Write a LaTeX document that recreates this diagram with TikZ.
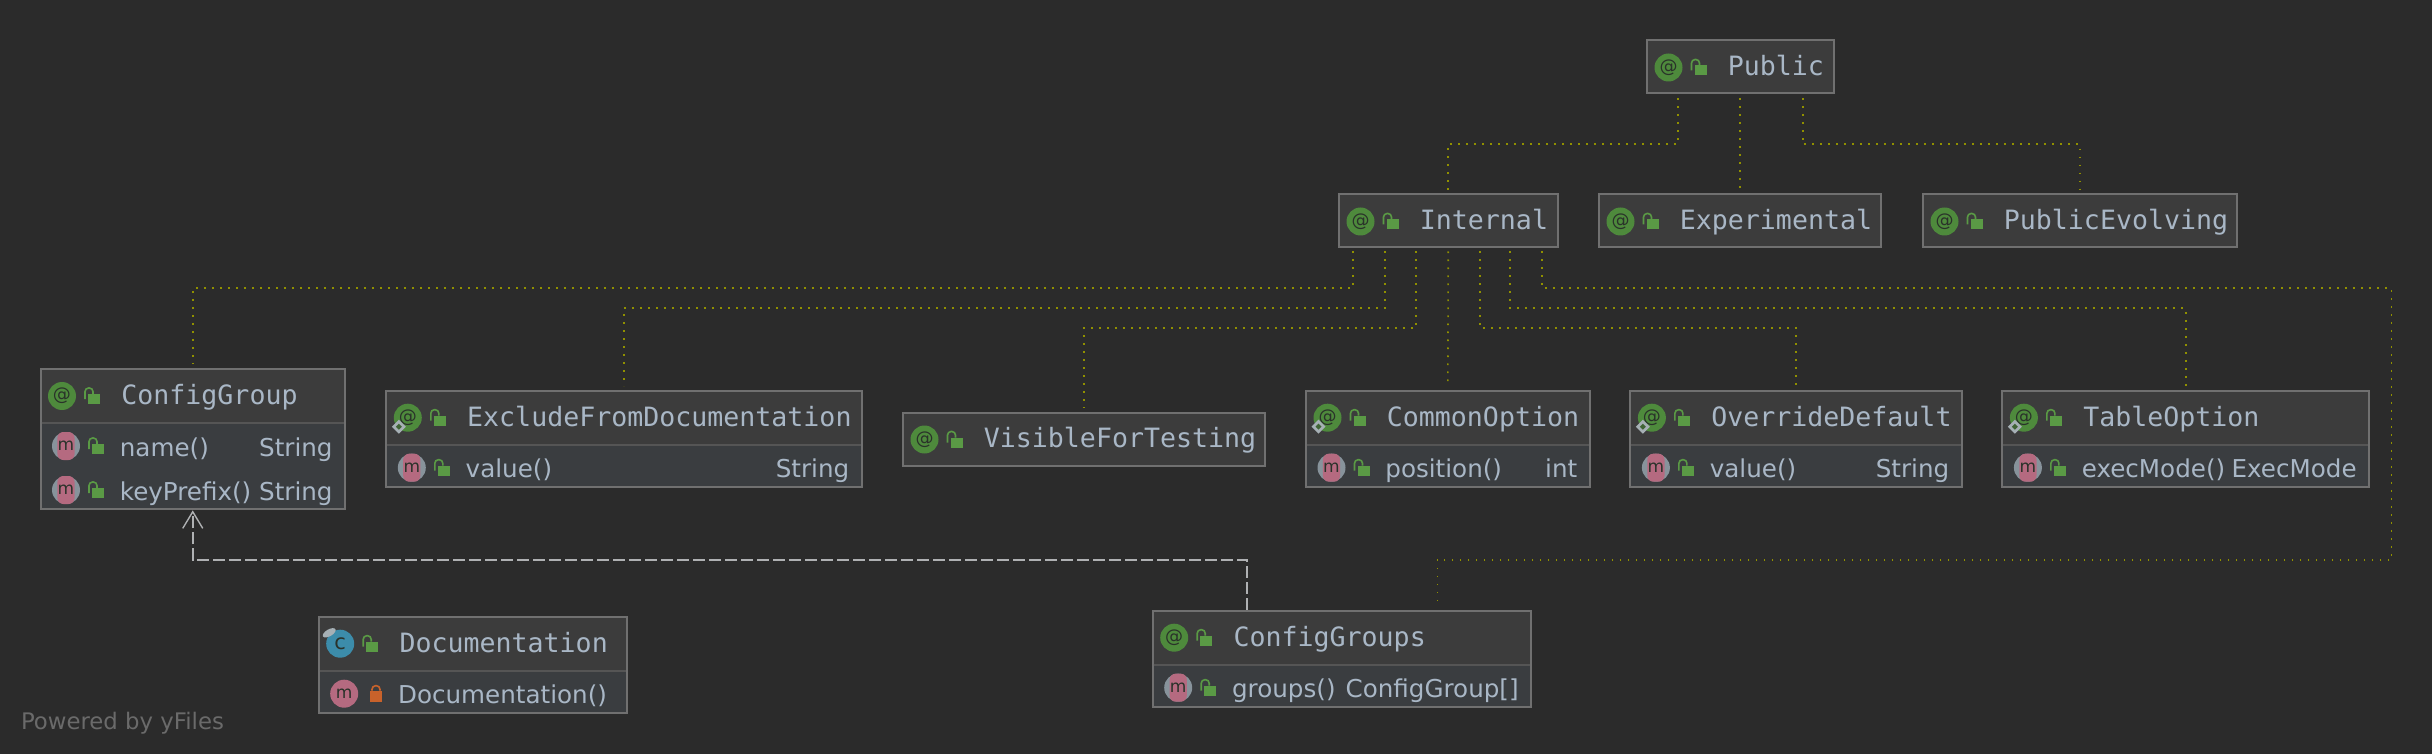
\documentclass[tikz,border=0pt]{standalone}
\usepackage{fontspec}
\setmainfont{DejaVu Sans}
\setmonofont{DejaVu Sans Mono}
\usetikzlibrary{arrows.meta}
\definecolor{canvasgray}{HTML}{2B2B2B}
\definecolor{headfill}{HTML}{3C3C3C}
\definecolor{rowfill}{HTML}{3A3D40}
\definecolor{boxline}{HTML}{707070}
\definecolor{rowline}{HTML}{555555}
\definecolor{labeltext}{HTML}{A9B7C6}
\definecolor{creditgray}{HTML}{6A6A6A}
\definecolor{implolive}{HTML}{909000}
\definecolor{deplight}{HTML}{AFB1B3}
\definecolor{annogreen}{HTML}{4E8A3C}
\definecolor{lockgreen}{HTML}{5A9A45}
\definecolor{lockorange}{HTML}{C8622B}
\definecolor{methodpink}{HTML}{B56A80}
\definecolor{ringgray}{HTML}{87939B}
\definecolor{classblue}{HTML}{3C8CAA}
\definecolor{glyphdark}{HTML}{2A322A}
\definecolor{tagpale}{HTML}{A6B0B5}
\tikzset{
	classbox/.style={draw=boxline, line width=1pt, fill=rowfill, rectangle, anchor=north west, outer sep=0pt, inner sep=0pt},
	titletext/.style={anchor=base west, inner sep=0pt, text=labeltext, font=\ttfamily\fontsize{13.3}{15}\selectfont},
	rowtext/.style={inner sep=0pt, text=labeltext, font=\fontsize{12.3}{14}\selectfont},
	annoicon/.style={circle, fill=annogreen, minimum size=14pt, inner sep=0pt, text=glyphdark, font=\fontsize{9}{10}\selectfont},
	classicon/.style={circle, fill=classblue, minimum size=14pt, inner sep=0pt, text=glyphdark, font=\fontsize{10.5}{11}\selectfont},
	methodicon/.style={circle, fill=methodpink, minimum size=14pt, inner sep=0pt, text=glyphdark, font=\fontsize{8.5}{10}\selectfont},
	methodring/.style={circle, fill=ringgray, minimum size=14pt, inner sep=0pt},
	methodbar/.style={rectangle, rounded corners=3pt, fill=methodpink, minimum width=8.6pt, minimum height=14pt, inner sep=0pt, text=glyphdark, font=\fontsize{8.5}{10}\selectfont},
	implink/.style={draw=implolive, line width=0.8pt, dash pattern=on 0.8pt off 3.2pt},
	deplink/.style={draw=deplight, line width=0.8pt, dash pattern=on 6pt off 2pt, -{Straight Barb[length=8.3pt, width=10pt, line width=0.7pt]}},
	openlock/.pic={
		\fill [lockgreen] (-3,-2.5) rectangle (3,2.5);
		\draw [lockgreen, line width=0.8pt, rounded corners=1.8pt] (-4.5,0) -- (-4.5,-5.5) -- (-0.5,-5.5) -- (-0.5,-2.5);
	},
	shutlock/.pic={
		\fill [lockorange] (-3,-2.5) rectangle (3,3);
		\draw [lockorange, line width=0.8pt, rounded corners=1.8pt] (-2,-2.5) -- (-2,-5) -- (2,-5) -- (2,-2.5);
	},
	sealmark/.pic={
		\fill [tagpale] (0,-3.5) -- (3.5,0) -- (0,3.5) -- (-3.5,0) -- cycle;
		\fill [annogreen!60!canvasgray] (0,-1.5) -- (1.5,0) -- (0,1.5) -- (-1.5,0) -- cycle;
	},
}
\newcommand{\classparts}[2]{
	\fill [headfill] ([shift={(0.5,0.5)}]#1.north west) rectangle ([shift={(-0.5,#2)}]#1.north east);
	\draw [rowline, line width=0.8pt] ([shift={(0.5,#2)}]#1.north west) -- ([shift={(-0.5,#2)}]#1.north east);
}
\newcommand{\annohead}[2]{
	\node (#1icon) [annoicon] at ([shift={(10.75,13.5)}]#1.north west) {@};
	\pic at ([shift={(26.75,15)}]#1.north west) {openlock};
	\node (#1title) [titletext] at ([shift={(40.25,17.7)}]#1.north west) {#2};
}
\newcommand{\methodrow}[5]{
	\node (#1#2ring) [methodring] at ([shift={(12.75,#3)}]#1.north west) {};
	\node (#1#2icon) [methodbar] at (#1#2ring) {m};
	\pic at ([shift={(28.75,#3+1.5)}]#1.north west) {openlock};
	\node (#1#2name) [rowtext, anchor=base west] at ([shift={(39.5,#3+5)}]#1.north west) {#4};
	\node (#1#2type) [rowtext, anchor=base east] at ([shift={(-6,#3+5)}]#1.north east) {#5};
}
\begin{document}
\begin{tikzpicture}[x=1pt, y=-1pt]
	\useasboundingbox [fill=canvasgray] (0,0) rectangle (1216,377);
	\node (public) [classbox, minimum width=93.25pt, minimum height=26.5pt, fill=headfill] at (823.5,20.25) {};
	\node (internal) [classbox, minimum width=109.25pt, minimum height=26.5pt, fill=headfill] at (669.5,97.25) {};
	\node (experimental) [classbox, minimum width=141pt, minimum height=26.5pt, fill=headfill] at (799.5,97.25) {};
	\node (publicevolving) [classbox, minimum width=157pt, minimum height=26.5pt, fill=headfill] at (961.5,97.25) {};
	\node (visible) [classbox, minimum width=181pt, minimum height=26.5pt, fill=headfill] at (451.5,206.25) {};
	\node (configgroup) [classbox, minimum width=152.25pt, minimum height=70pt] at (20.25,184.5) {};
	\node (exclude) [classbox, minimum width=237.65pt, minimum height=48.15pt] at (193.15,195.35) {};
	\node (commonoption) [classbox, minimum width=141.85pt, minimum height=48.15pt] at (653,195.35) {};
	\node (override) [classbox, minimum width=165.6pt, minimum height=48.15pt] at (815.2,195.35) {};
	\node (tableoption) [classbox, minimum width=183.3pt, minimum height=48.15pt] at (1001.2,195.35) {};
	\node (configgroups) [classbox, minimum width=189.15pt, minimum height=48.3pt] at (576.35,305.35) {};
	\node (documentation) [classbox, minimum width=154.3pt, minimum height=48.3pt] at (159.35,308.35) {};
	\classparts{configgroup}{26.9}
	\classparts{exclude}{27.1}
	\classparts{commonoption}{27.1}
	\classparts{override}{27.1}
	\classparts{tableoption}{27.1}
	\classparts{configgroups}{27.1}
	\classparts{documentation}{27.1}
	\annohead{public}{Public}
	\annohead{internal}{Internal}
	\annohead{experimental}{Experimental}
	\annohead{publicevolving}{PublicEvolving}
	\annohead{visible}{VisibleForTesting}
	\annohead{configgroup}{ConfigGroup}
	\annohead{exclude}{ExcludeFromDocumentation}
	\annohead{commonoption}{CommonOption}
	\annohead{override}{OverrideDefault}
	\annohead{tableoption}{TableOption}
	\annohead{configgroups}{ConfigGroups}
	\pic at ([shift={(6.25,18)}]exclude.north west) {sealmark};
	\pic at ([shift={(6.25,18)}]commonoption.north west) {sealmark};
	\pic at ([shift={(6.25,18)}]override.north west) {sealmark};
	\pic at ([shift={(6.25,18)}]tableoption.north west) {sealmark};
	\methodrow{configgroup}{one}{38.5}{name()}{String}
	\methodrow{configgroup}{two}{60.5}{keyPrefix()}{String}
	\methodrow{exclude}{one}{38.5}{value()}{String}
	\methodrow{commonoption}{one}{38.5}{position()}{int}
	\methodrow{override}{one}{38.5}{value()}{String}
	\methodrow{tableoption}{one}{38.5}{execMode()}{ExecMode}
	\methodrow{configgroups}{one}{38.5}{groups()}{ConfigGroup[]}
	\node (documentationicon) [classicon] at ([shift={(10.75,13.5)}]documentation.north west) {c};
	\fill [tagpale, shift={(164.6,316.4)}, rotate=30] (0,0) ellipse [x radius=3.6pt, y radius=1.7pt];
	\pic at ([shift={(26.75,15)}]documentation.north west) {openlock};
	\node (documentationtitle) [titletext] at ([shift={(40.25,17.7)}]documentation.north west) {Documentation};
	\node (documentationctoricon) [methodicon] at ([shift={(12.75,38.5)}]documentation.north west) {m};
	\pic at ([shift={(28.65,39.5)}]documentation.north west) {shutlock};
	\node (documentationctor) [rowtext, anchor=base west] at ([shift={(39.5,43.5)}]documentation.north west) {Documentation()};
	\coordinate (upperbus) at (0,72.15);
	\coordinate (busone) at (0,144.15);
	\coordinate (bustwo) at (0,154.15);
	\coordinate (busthree) at (0,164.15);
	\coordinate (lowerbus) at (0,280);
	\coordinate (rightbend) at (1195.8,144.15);
	\draw [implink] ([shift={(-31.25,2.25)}]public.south) |- (internal.north |- upperbus) -- ([shift={(0,-2.25)}]internal.north);
	\draw [implink] ([shift={(0,2.25)}]public.south) -- ([shift={(0,-2.25)}]experimental.north -| public.south);
	\draw [implink] ([shift={(31.25,2.25)}]public.south) |- (publicevolving.north |- upperbus) -- ([shift={(0,-2.25)}]publicevolving.north);
	\draw [implink] ([shift={(-47.5,2)}]internal.south) |- (configgroup.north |- busone) -- ([shift={(0,-2.25)}]configgroup.north);
	\draw [implink] ([shift={(-31.5,2)}]internal.south) |- (exclude.north |- bustwo) -- ([shift={(0,-2.25)}]exclude.north);
	\draw [implink] ([shift={(-16,2)}]internal.south) |- (visible.north |- busthree) -- ([shift={(0,-2.25)}]visible.north);
	\draw [implink] ([shift={(0,2)}]internal.south) -- ([shift={(0,-2.25)}]commonoption.north);
	\draw [implink] ([shift={(15.75,2)}]internal.south) |- (override.north |- busthree) -- ([shift={(0,-2.25)}]override.north);
	\draw [implink] ([shift={(31,2)}]internal.south) |- (tableoption.north |- bustwo) -- ([shift={(0,-2.25)}]tableoption.north);
	\draw [implink] ([shift={(47,2)}]internal.south) |- (rightbend) |- ([shift={(47.75,0)}]configgroups.north |- lowerbus) -- ([shift={(47.75,-2.5)}]configgroups.north);
	\draw [deplink] ([shift={(-47.3,-0.5)}]configgroups.north) |- (configgroup.south |- lowerbus) -- ([shift={(0,0.7)}]configgroup.south);
	\node (poweredby) [anchor=base west, inner sep=0pt, text=creditgray, font=\fontsize{11.4}{14}\selectfont] at (10.3,364.5) {Powered by yFiles};
\end{tikzpicture}
\end{document}
